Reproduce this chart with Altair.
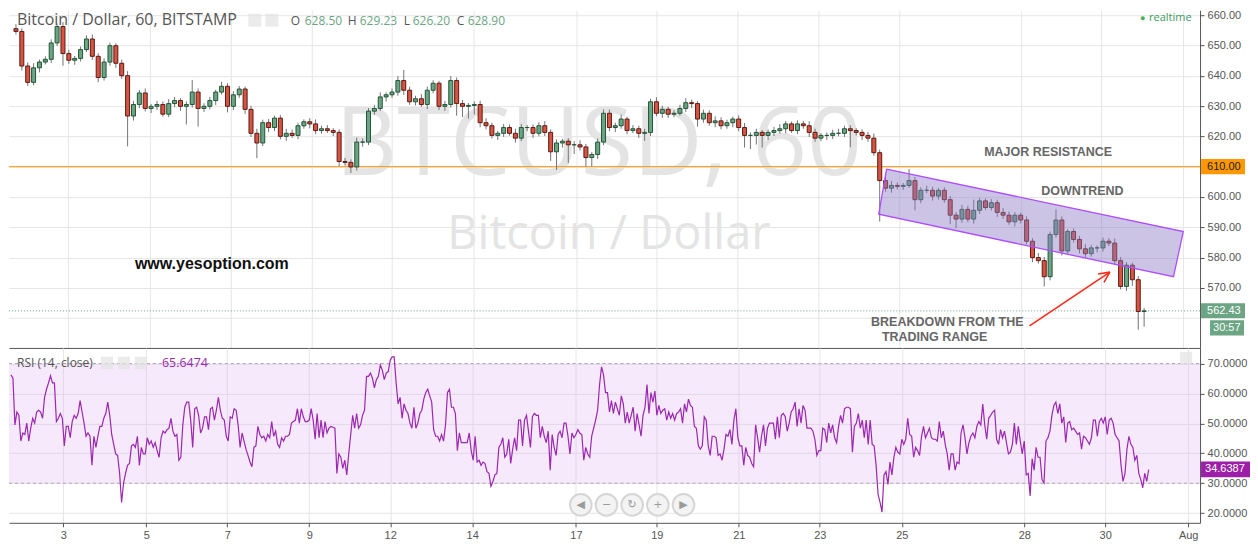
import altair as alt
import pandas as pd

# ---------------- data ----------------
# hourly-ish candles sampled every ~3.5 h (closes), open of first candle
open_first = 655.5
close = [654.6,643.2,637.8,642.6,644.5,645.4,650.8,656.2,647.3,645.1,
         645.7,648.6,652.1,646.4,639.4,644.5,649.9,644.1,640.0,626.7,
         630.5,634.3,629.2,629.9,630.5,627.3,630.8,631.8,629.9,630.5,
         634.6,629.2,629.9,631.8,634.6,636.5,629.9,633.7,635.6,628.9,
         621.0,617.8,624.5,622.9,626.0,620.0,621.0,620.3,623.5,624.8,
         624.1,621.9,622.5,621.9,621.3,611.7,611.4,609.9,618.1,618.1,
         628.3,629.2,633.0,633.7,634.6,638.4,635.2,631.4,632.4,630.5,
         635.2,637.5,629.9,630.5,638.4,630.8,629.9,630.2,630.5,624.5,
         623.5,620.3,621.0,622.9,621.0,619.4,622.9,622.9,621.0,623.5,
         621.3,614.9,617.8,618.4,617.2,617.2,616.5,613.0,614.0,618.1,
         627.6,622.9,623.5,625.7,621.9,622.5,621.0,621.3,631.4,627.6,
         628.9,627.3,627.6,629.2,631.1,630.8,625.7,627.6,624.5,625.1,
         623.5,624.5,625.7,622.9,620.3,620.3,621.3,620.3,621.3,621.9,
         622.5,624.1,621.9,624.1,623.5,621.3,619.4,620.3,620.3,621.0,
         621.0,622.5,621.9,621.3,620.3,619.4,614.6,605.4,602.9,603.8,
         603.5,603.8,605.4,599.1,602.2,602.2,600.3,602.2,599.1,594.0,
         592.7,595.9,592.7,595.6,598.7,596.5,598.1,594.9,594.0,591.8,
         594.0,592.4,585.4,580.0,579.0,573.7,587.6,592.4,582.2,588.6,
         586.0,582.9,581.3,583.2,583.2,585.4,584.8,579.0,570.5,577.5,
         572.7,562.2,562.43]
# upper / lower wick length beyond the body
wick_up = [1.5,1.0,1.2,1.5,0.8,1.0,1.2,1.0,1.5,1.2,0.8,1.0,1.2,1.5,1.0,1.2,1.0,0.8,1.2,1.5,
           1.2,1.0,1.5,0.8,1.2,1.0,1.5,1.2,0.8,1.0,4.0,1.2,1.0,1.2,0.8,1.5,1.0,1.2,1.0,0.8,
           1.2,1.5,1.0,1.2,0.8,1.0,1.5,1.2,1.0,0.8,1.2,1.5,1.0,1.2,0.8,1.0,1.2,1.0,1.5,1.2,
           1.0,1.2,1.5,0.8,1.2,1.5,3.5,1.2,1.0,1.5,1.2,1.0,0.8,1.2,1.5,1.0,1.2,0.8,1.0,1.2,
           1.5,1.0,0.8,1.2,1.0,1.5,1.2,0.8,1.0,1.2,1.5,1.0,1.2,0.8,1.0,1.2,1.5,1.0,0.8,1.2,
           1.3,1.2,1.0,1.5,0.8,1.2,1.0,1.2,1.0,1.5,1.2,0.8,1.0,1.2,1.5,1.0,0.8,1.2,1.0,1.5,
           1.2,1.0,0.8,1.2,1.5,1.0,1.2,0.8,1.0,1.2,1.5,1.0,0.8,1.2,1.0,1.5,1.2,0.8,1.0,1.2,
           1.5,1.0,1.2,0.8,1.0,1.2,1.5,1.0,1.2,1.5,1.0,0.8,3.8,1.2,1.0,1.5,1.2,0.8,1.0,1.2,
           1.0,1.5,1.2,3.5,1.0,0.8,1.2,1.0,1.5,1.2,1.0,0.8,1.2,1.0,1.5,1.2,1.0,3.5,1.2,0.8,
           1.0,1.2,1.5,1.0,0.8,1.2,1.0,1.5,1.2,1.0,0.8,1.2,1.0]
wick_dn = [1.0,1.5,1.2,1.0,1.5,0.8,1.2,1.0,4.0,1.2,1.5,1.0,0.8,1.2,1.5,1.0,1.2,1.5,1.0,10.0,
           1.5,1.2,1.0,1.5,1.2,0.8,1.0,1.2,1.5,6.0,1.0,6.0,1.2,1.0,1.5,0.8,2.0,1.2,1.0,1.5,
           1.2,5.0,1.0,1.5,1.2,1.0,1.5,0.8,1.2,1.0,1.5,1.2,1.0,0.8,1.2,1.5,1.0,2.0,1.2,1.5,
           1.0,1.2,0.8,1.5,1.0,1.2,1.5,1.0,1.2,0.8,1.5,1.0,1.2,1.5,1.0,4.0,3.5,4.0,3.0,1.5,
           1.2,1.0,1.5,1.2,0.8,1.5,1.0,1.2,1.5,1.0,1.2,3.0,6.0,1.5,6.0,3.0,1.2,3.0,3.0,1.5,
           1.0,1.2,1.5,1.0,1.2,0.8,1.5,2.5,1.2,1.0,1.5,1.2,1.0,0.8,1.2,1.5,2.5,1.2,1.0,1.5,
           1.2,1.0,1.5,1.2,4.0,4.5,3.0,4.0,1.5,1.2,1.0,1.5,0.8,1.2,1.0,1.5,1.2,1.0,1.5,1.2,
           1.0,1.2,5.5,1.0,1.5,1.2,1.0,13.5,1.2,1.5,1.0,1.2,0.8,3.5,1.2,1.0,1.5,1.2,1.0,3.0,
           3.0,1.2,1.0,1.5,1.2,0.8,1.0,1.5,1.2,1.0,1.5,1.2,1.0,1.5,1.0,3.2,1.2,1.0,1.5,1.2,
           1.0,1.5,1.2,1.0,1.5,1.2,1.0,1.2,1.0,1.5,2.0,6.0,5.0]

# RSI(14) sampled along the same time axis (3 samples per candle)
rsi = [66.2,65.1,49.5,53.8,52.7,44.1,46.8,46.3,50.1,44.1,48.4,51.7,50.1,53.8,54.4,53.8,51.7,58.7,61.4,63.5,
       65.9,63.5,63.5,50.6,51.7,53.3,51.7,42.5,49.0,49.0,45.2,50.6,52.7,51.7,53.3,57.6,53.8,50.1,45.7,46.8,
       45.7,36.0,45.7,42.0,45.7,49.0,49.0,51.7,53.3,57.1,52.7,46.3,43.0,39.8,39.3,33.3,23.6,30.1,33.3,36.0,
       36.6,42.5,43.0,42.0,45.7,36.0,42.0,39.8,39.8,45.2,43.0,44.1,42.0,43.6,40.9,38.7,45.2,47.4,46.8,47.9,
       48.4,51.7,47.4,45.7,46.3,37.7,38.7,49.5,55.4,57.1,57.1,51.1,42.0,54.9,55.4,52.7,46.8,48.4,52.2,52.2,
       47.9,54.9,55.4,51.1,54.4,58.7,54.4,51.7,51.1,45.7,44.1,52.2,51.7,54.9,54.4,49.5,42.0,46.8,44.1,41.4,
       39.3,37.1,35.5,42.0,42.5,49.0,46.3,45.2,45.7,44.1,46.3,45.2,50.6,45.7,47.4,43.0,42.0,45.2,44.1,45.7,
       45.7,46.3,50.1,50.6,51.1,54.9,50.1,54.9,52.2,50.6,
       50.6,51.1,54.9,51.1,44.7,53.3,45.2,51.1,45.2,50.6,46.8,48.4,49.0,48.7,48.4,33.3,39.8,38.7,35.0,37.7,
       32.8,39.8,46.3,52.7,48.4,53.3,48.4,49.5,52.7,54.4,65.7,65.7,66.8,65.1,61.9,64.6,65.7,69.5,67.8,64.6,
       66.8,67.3,71.1,72.2,72.2,63.5,56.5,58.7,51.7,56.5,54.4,53.3,50.1,48.4,55.4,48.4,50.1,53.3,54.4,58.1,
       60.3,61.4,59.2,57.1,47.9,45.7,45.7,44.1,46.3,44.1,49.5,60.3,61.4,55.4,55.4,53.3,40.9,46.8,43.6,43.6,
       43.6,43.6,46.8,40.9,37.7,45.7,37.1,37.7,36.0,37.1,36.6,33.9,33.3,29.0,30.6,32.8,33.3,42.0,43.0,45.2,
       38.7,39.8,44.7,36.6,41.4,45.2,40.9,51.1,51.1,42.5,51.1,52.7,47.4,42.0,52.2,53.3,52.7,52.7,45.2,49.0,
       45.7,43.6,47.4,34.4,46.3,42.0,39.3,46.3,47.4,45.2,50.1,50.1,45.7,39.8,46.8,45.2,46.3,47.9,46.8,46.3,
       37.7,42.0,39.8,38.7,45.7,48.4,51.1,54.4,63.0,68.9,
       66.2,60.3,60.3,53.8,57.6,53.3,57.1,54.9,52.7,59.2,56.5,50.1,53.8,50.1,52.7,55.4,47.4,53.3,49.5,45.7,
       52.7,55.4,63.0,53.3,60.3,57.1,60.8,52.7,56.0,53.3,54.4,54.9,51.1,53.8,51.7,53.3,51.1,53.3,53.8,54.9,
       50.1,56.5,53.8,58.1,56.0,55.4,49.0,48.4,42.5,41.4,42.5,52.2,51.1,42.5,39.3,45.7,45.7,45.2,39.3,39.8,
       37.7,41.4,46.3,45.7,47.9,43.0,51.1,54.9,45.2,42.5,42.5,36.0,42.0,39.3,38.7,36.6,35.5,49.5,45.2,40.4,
       45.7,49.5,42.5,48.4,50.1,50.1,50.1,44.7,52.2,45.2,52.7,53.3,52.2,47.4,50.1,53.8,54.9,57.1,49.0,54.9,
       50.1,56.0,54.4,48.4,48.4,48.4,47.4,44.7,39.3,40.9,40.9,48.4,47.9,43.6,50.1,46.8,49.5,45.2,43.6,49.0,
       52.7,50.1,54.9,55.4,55.4,54.9,40.4,49.0,50.1,53.3,48.4,51.1,45.2,51.1,43.0,51.1,43.0,42.5,36.0,26.3,
       23.6,20.4,32.8,33.9,29.6,37.1,32.8,38.7,42.0,40.4,
       39.8,44.7,43.0,44.7,51.7,46.3,45.7,38.7,42.0,40.9,39.3,45.7,49.0,45.2,46.8,48.4,45.2,44.7,44.7,44.1,
       50.6,45.2,47.4,43.0,39.8,34.4,39.8,39.8,34.4,37.1,36.6,46.8,49.5,45.2,39.8,43.6,45.7,46.8,45.2,49.0,
       50.6,49.5,56.5,49.5,44.7,51.7,52.7,53.8,54.4,44.7,43.0,47.9,45.2,47.4,43.6,39.8,40.4,43.0,50.1,43.0,
       49.0,44.1,39.8,44.1,32.8,33.3,25.8,38.2,34.4,42.0,38.7,38.7,31.2,30.1,44.1,45.2,47.4,52.7,56.0,57.1,
       53.3,56.5,50.1,52.2,43.6,50.1,50.6,47.9,48.4,47.4,46.3,46.8,41.4,45.7,45.2,44.1,43.0,45.2,51.1,51.1,
       45.7,50.6,51.7,50.1,52.2,46.3,51.1,51.7,50.1,46.3,45.2,44.1,36.0,30.6,33.3,41.4,45.7,43.0,42.0,37.7,
       39.3,33.3,31.2,28.5,33.3,30.6,34.6]

tick_pos = [26.5, 68.5, 109.5, 151, 192, 233.5, 286, 327, 368.5, 409.5, 451, 513, 554, 596]
tick_labels = ["3", "5", "7", "9", "12", "14", "17", "19", "21", "23", "25", "28", "30", "Aug"]

price_labels = [570, 580, 590, 600, 610, 620, 630, 640, 650, 660]
price_grid = [560]
rsi_labels = [20, 30, 40, 50, 60, 70]

resistance = 610.0
last_price = 562.43
last_rsi = 34.6387

# downtrend channel corners (time, price)
chan_t = [444.5, 596, 591, 440.5, 444.5]
chan_p = [609.2, 588.6, 573.7, 594.3, 609.2]

# ---------------- styling ----------------
W, HP, HR = 1192, 338, 175
XMIN, XMAX = -1.0, 602.0
PMIN, PMAX = 550.2, 661.6
RMIN, RMAX = 16.8, 75.2
UP, UP_B, DN, DN_B, WICK = "#6ba583", "#225437", "#d75442", "#5b1a13", "#737375"
GRID, AXC, PURPLE = "#e6e6e6", "#555555", "#9c27b0"
FONT, AFONT = "Open Sans", "Liberation Sans"

opens = [open_first] + close[:-1]
cd = pd.DataFrame({"t": [3 * i for i in range(len(close))], "o": opens, "c": close})
cd["h"] = [max(o, c) + e for o, c, e in zip(opens, close, wick_up)]
cd["l"] = [min(o, c) - e for o, c, e in zip(opens, close, wick_dn)]
rd = pd.DataFrame({"t": list(range(len(rsi))), "v": rsi})

xscale = alt.Scale(domain=[XMIN, XMAX], nice=False, zero=False)
pscale = alt.Scale(domain=[PMIN, PMAX], nice=False, zero=False)
rscale = alt.Scale(domain=[RMIN, RMAX], nice=False, zero=False)

label_expr = ("[" + ",".join("'%s'" % s for s in tick_labels) + "][indexof(["
              + ",".join(str(v) for v in tick_pos) + "], datum.value)]")

ax_xp = alt.Axis(values=tick_pos, labels=False, ticks=False, grid=True, gridColor=GRID,
                 domain=True, domainColor=AXC, title=None, orient="bottom")
ax_xr = alt.Axis(values=tick_pos, labelExpr=label_expr, grid=True, gridColor=GRID,
                 domainColor=AXC, tickColor=AXC, tickSize=4, labelColor=AXC, labelFont=AFONT,
                 labelFontSize=11, labelPadding=3, labelFlush=False, labelOverlap=False,
                 labelFontWeight={"condition": {"test": "datum.label == 'Aug'", "value": "bold"},
                                  "value": "normal"},
                 title=None, orient="bottom")
ay_p = alt.Axis(orient="right", values=price_labels, format=".2f", grid=True,
                gridColor=GRID, domainColor=AXC, tickColor=AXC, tickSize=4, labelColor=AXC,
                labelFont=AFONT, labelFontSize=11, labelPadding=3, title=None)
ay_r = alt.Axis(orient="right", values=rsi_labels, format=".4f", grid=True,
                gridColor=GRID, domainColor=AXC, tickColor=AXC, tickSize=4, labelColor=AXC,
                labelFont=AFONT, labelFontSize=11, labelPadding=3, title=None)


def XP(f):
    return alt.X(f, type="quantitative", scale=xscale, axis=ax_xp)


def XR(f):
    return alt.X(f, type="quantitative", scale=xscale, axis=ax_xr)


def YP(f):
    return alt.Y(f, type="quantitative", scale=pscale, axis=ay_p)


def YR(f):
    return alt.Y(f, type="quantitative", scale=rscale, axis=ay_r)


one = pd.DataFrame({"a": [0]})


def label(text, x, y, color=AXC, size=12, font=FONT, weight="normal", align="left"):
    return alt.Chart(one).mark_text(text=text, color=color, fontSize=size, font=font,
                                    fontWeight=weight, align=align, baseline="middle").encode(
        x=alt.value(x), y=alt.value(y))


# ---------------- price panel ----------------
wm = pd.DataFrame({"t": [297.5, 302.7], "p": [607.2, 583.0],
                   "s": ["BTCUSD, 60", "Bitcoin / Dollar"]})
wm1 = alt.Chart(wm.iloc[[0]]).mark_text(fontSize=96, font=FONT, color="#e4e4e4",
                                        baseline="alphabetic", align="center").encode(
    x=XP("t"), y=YP("p"), text="s:N")
wm2 = alt.Chart(wm.iloc[[1]]).mark_text(fontSize=47, font=FONT, color="#e4e4e4",
                                        baseline="alphabetic", align="center").encode(
    x=XP("t"), y=YP("p"), text="s:N")

grid560 = alt.Chart(pd.DataFrame({"p": price_grid})).mark_rule(color=GRID, strokeWidth=1).encode(
    y=YP("p"), x=alt.value(0), x2=alt.value(W))

lines = pd.DataFrame({"p": [resistance, last_price]})
res_line = alt.Chart(lines.iloc[[0]]).mark_rule(color="#ff9800", strokeWidth=1).encode(
    y=YP("p"), x=alt.value(0), x2=alt.value(W))
last_line = alt.Chart(lines.iloc[[1]]).mark_rule(color=UP, strokeWidth=1,
                                                 strokeDash=[1, 2]).encode(
    y=YP("p"), x=alt.value(0), x2=alt.value(W))

wicks = alt.Chart(cd).mark_rule(color=WICK, strokeWidth=1).encode(
    x=XP("t"), y=YP("l"), y2="h")
bodies = alt.Chart(cd).mark_bar(size=4, strokeWidth=1).encode(
    x=XP("t"), y=YP("o"), y2="c",
    fill=alt.condition("datum.c >= datum.o", alt.value(UP), alt.value(DN)),
    stroke=alt.condition("datum.c >= datum.o", alt.value(UP_B), alt.value(DN_B)))

chan = pd.DataFrame({"t": chan_t, "p": chan_p, "k": list(range(len(chan_t)))})
channel = alt.Chart(chan).mark_line(fill="#8e7cc3", fillOpacity=0.45, stroke="#b04cff",
                                    strokeWidth=1.3).encode(
    x=XP("t"), y=YP("p"), order="k:Q")

ann = pd.DataFrame({"t": [527, 544.5, 475.5, 469], "p": [614.9, 601.9, 558.9, 553.9],
                    "s": ["MAJOR RESISTANCE", "DOWNTREND", "BREAKDOWN FROM THE", "TRADING RANGE"]})
ann_txt = alt.Chart(ann).mark_text(font=AFONT, fontWeight="bold", fontSize=12.5, color="#666666",
                                   align="center", baseline="middle").encode(
    x=XP("t"), y=YP("p"), text="s:N")
site = alt.Chart(pd.DataFrame({"t": [100], "p": [577.8], "s": ["www.yesoption.com"]})).mark_text(
    font=AFONT, fontWeight="bold", fontSize=16, color="#111111", align="center",
    baseline="middle").encode(x=XP("t"), y=YP("p"), text="s:N")

arrow = pd.DataFrame({"t": [517.5, 558.5, 558.5], "p": [557.5, 575.2, 575.2],
                      "t2": [558.5, 552.5, 555.5], "p2": [575.2, 574.6, 571.8]})
arrow_m = alt.Chart(arrow).mark_rule(color="#ff2a1a", strokeWidth=1.6).encode(
    x=XP("t"), y=YP("p"), x2="t2", y2="p2")

boxes = pd.DataFrame({"p": [resistance - 2.5, last_price - 2.4, 554.3],
                      "p2": [resistance + 2.5, last_price + 2.5, 559.3]})
box_res = alt.Chart(boxes.iloc[[0]]).mark_rect(color="#ff9800").encode(
    y=YP("p"), y2="p2", x=alt.value(W + 1), x2=alt.value(W + 45))
box_last = alt.Chart(boxes.iloc[[1]]).mark_rect(color=UP).encode(
    y=YP("p"), y2="p2", x=alt.value(W + 1), x2=alt.value(W + 45))
box_time = alt.Chart(boxes.iloc[[2]]).mark_rect(color=UP).encode(
    y=YP("p"), y2="p2", x=alt.value(W + 10), x2=alt.value(W + 44))
btxt = pd.DataFrame({"p": [resistance, last_price, 556.8],
                     "s": ["%.2f" % resistance, "%.2f" % last_price, "30:57"]})
txt_res = alt.Chart(btxt.iloc[[0]]).mark_text(font=AFONT, fontSize=11, color="#222222",
                                              align="left", baseline="middle").encode(
    y=YP("p"), x=alt.value(W + 7), text="s:N")
txt_last = alt.Chart(btxt.iloc[[1]]).mark_text(font=AFONT, fontSize=11, color="white",
                                               align="left", baseline="middle").encode(
    y=YP("p"), x=alt.value(W + 7), text="s:N")
txt_time = alt.Chart(btxt.iloc[[2]]).mark_text(font=AFONT, fontSize=11, color="white",
                                               align="left", baseline="middle").encode(
    y=YP("p"), x=alt.value(W + 13), text="s:N")

icons = alt.Chart(pd.DataFrame({"x": [246, 263]})).mark_square(size=170, color="#e3e3e3").encode(
    x=alt.X("x:Q", scale=None), y=alt.value(10))

head = [label("Bitcoin / Dollar, 60, BITSTAMP", 8, 10, size=16),
        label("O", 282, 11), label("628.50", 296, 11, color=UP),
        label("H", 339, 11), label("629.23", 351, 11, color=UP),
        label("L", 395, 11), label("626.20", 404, 11, color=UP),
        label("C", 448, 11), label("628.90", 459, 11, color=UP),
        label("\u25cf", W - 60, 8, color="#4caf50", size=9),
        label("realtime", W - 51, 8, color="#3d9a62", size=11)]

price = alt.layer(wm1, wm2, grid560, res_line, last_line, wicks, bodies, channel, ann_txt, site,
                  arrow_m, box_res, box_last, box_time, txt_res, txt_last, txt_time, icons,
                  *head).properties(width=W, height=HP)

# ---------------- RSI panel ----------------
band = alt.Chart(pd.DataFrame({"lo": [30], "hi": [70]})).mark_rect(
    color="#d9a6f0", opacity=0.25).encode(
    y=YR("lo"), y2="hi", x=alt.value(0), x2=alt.value(W))
lvl = alt.Chart(pd.DataFrame({"v": [30, 70]})).mark_rule(
    color="#b3a6b6", strokeDash=[3, 3], strokeWidth=1).encode(
    y=YR("v"), x=alt.value(0), x2=alt.value(W))
rsi_line = alt.Chart(rd).mark_line(color=PURPLE, strokeWidth=1.2).encode(x=XR("t"), y=YR("v"))

rbox = alt.Chart(pd.DataFrame({"lo": [last_rsi - 2.6], "hi": [last_rsi + 2.6]})).mark_rect(
    color="#9c1fa8").encode(y=YR("lo"), y2="hi", x=alt.value(W + 1), x2=alt.value(W + 50))
rbox_t = alt.Chart(pd.DataFrame({"v": [last_rsi], "s": ["%.4f" % last_rsi]})).mark_text(
    font=AFONT, fontSize=11, color="white", align="left", baseline="middle").encode(
    y=YR("v"), x=alt.value(W + 5), text="s:N")

nav = pd.DataFrame({"t": [288.5, 301.5, 314.5, 327.5, 340.5], "v": [22.8] * 5,
                    "s": ["\u25c0", "\u2212", "\u21bb", "+", "\u25b6"]})
nav_c = alt.Chart(nav).mark_point(shape="circle", size=470, filled=True, color="#f3f3f3",
                                  stroke="#d6d6d6", strokeWidth=2, opacity=1).encode(
    x=XR("t"), y=YR("v"))
nav_t = alt.Chart(nav).mark_text(font="DejaVu Sans", fontSize=11, color="#9a9a9a",
                                 baseline="middle", align="center").encode(
    x=XR("t"), y=YR("v"), text="s:N")

r_icons = alt.Chart(pd.DataFrame({"x": [98, 115, 132]})).mark_square(
    size=150, color="#e3e3e3").encode(x=alt.X("x:Q", scale=None), y=alt.value(15))
up_icon = alt.Chart(one).mark_square(size=150, color="#e3e3e3").encode(
    x=alt.value(W - 14), y=alt.value(10))

rhead = [label("RSI (14, close)", 8, 15, size=12),
         label("65.6474", 153, 15, color=PURPLE, size=12.5)]

rsi_panel = alt.layer(band, lvl, rsi_line, rbox, rbox_t, nav_c, nav_t, r_icons, up_icon,
                      *rhead).properties(width=W, height=HR)

chart = alt.vconcat(price, rsi_panel, spacing=0, bounds="flush").properties(
    padding=0).configure_view(stroke=None)

chart.save("out.html", embed_options={"renderer": "svg", "actions": False})
